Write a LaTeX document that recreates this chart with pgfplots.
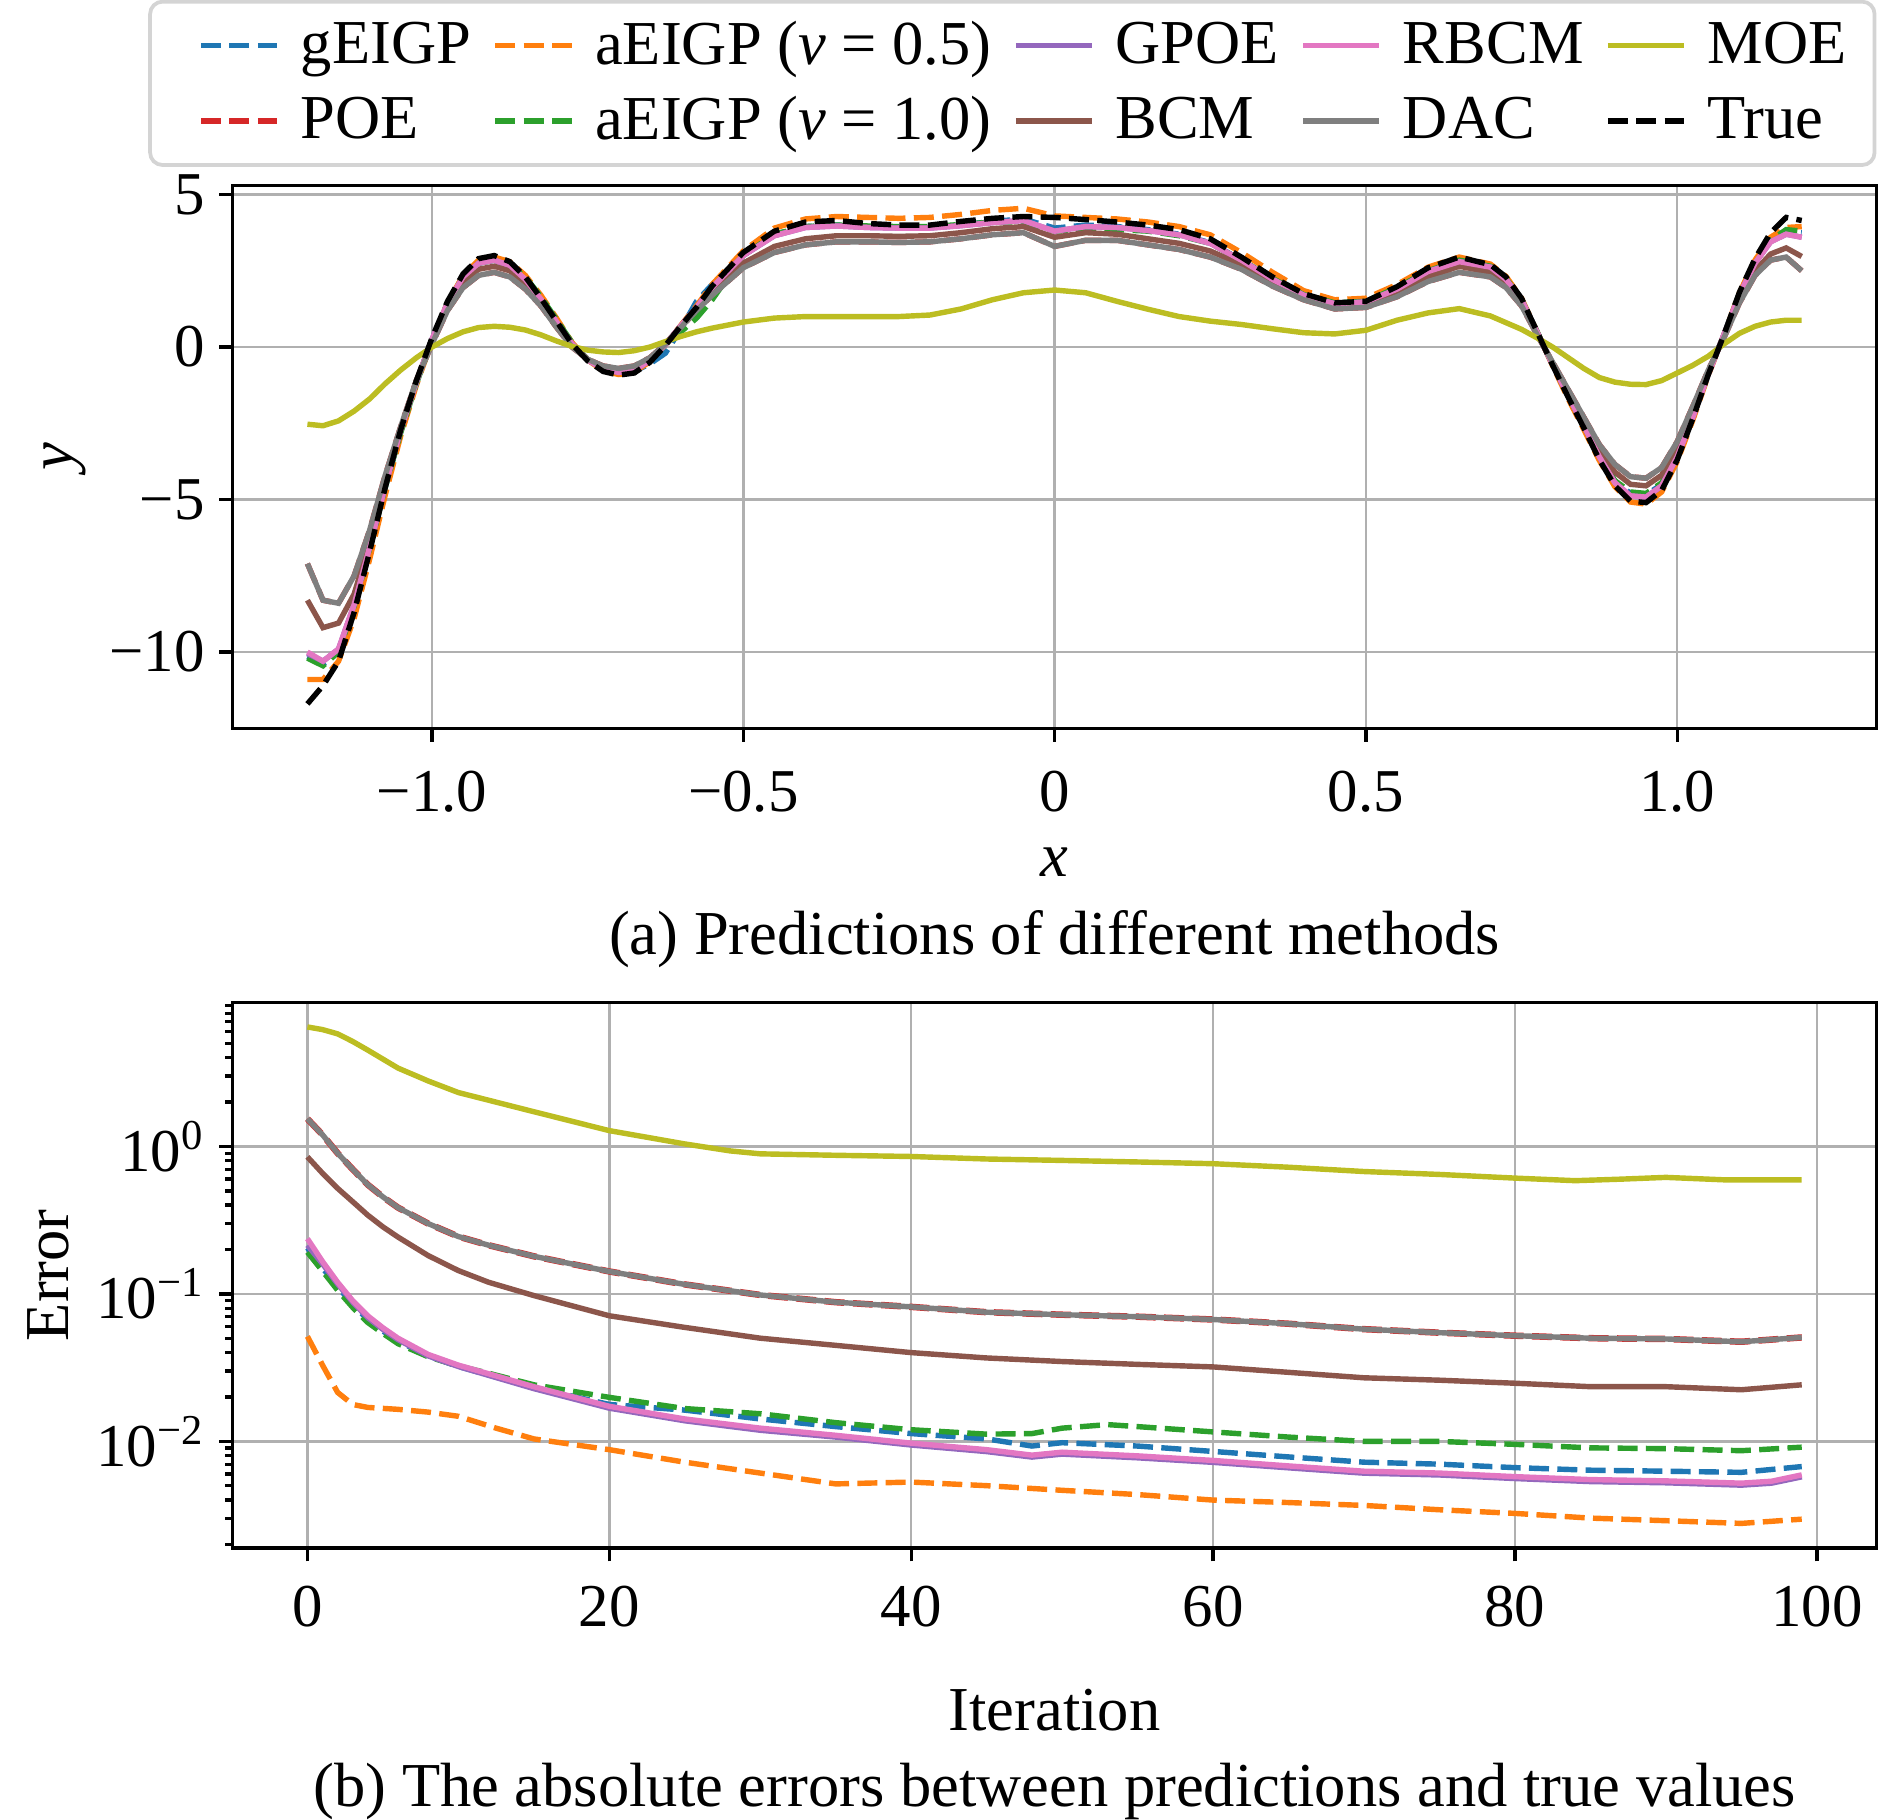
\documentclass[border=0pt]{standalone}
\usepackage{fontspec}
\setmainfont{Liberation Serif}
\usepackage{pgfplots}
\usepackage{pgfplotstable}
\pgfplotsset{compat=1.18}
\definecolor{cB}{HTML}{1F77B4}
\definecolor{cO}{HTML}{FF7F0E}
\definecolor{cG}{HTML}{2CA02C}
\definecolor{cR}{HTML}{D62728}
\definecolor{cP}{HTML}{9467BD}
\definecolor{cBr}{HTML}{8C564B}
\definecolor{cPk}{HTML}{E377C2}
\definecolor{cGr}{HTML}{7F7F7F}
\definecolor{cOl}{HTML}{BCBD22}
\newcommand{\fs}{\fontsize{14.6}{17.5}\selectfont}
\newcommand{\fl}{\fontsize{15}{18}\selectfont}

\pgfplotstableread{
x T gE a05 a10 GP BCM RB DAC MOE
-1.2 -11.7 -10.15 -10.9 -10.2 -10.05 -8.3 -10.0 -7.1 -2.53
-1.175 -11.1 -10.4 -10.9 -10.45 -10.3 -9.2 -10.3 -8.3 -2.58
-1.15 -10.3 -9.95 -10.3 -10.0 -9.9 -9.05 -9.9 -8.4 -2.42
-1.125 -8.7 -8.5 -8.9 -8.5 -8.45 -8.1 -8.45 -7.5 -2.1
-1.1 -6.7 -6.6 -6.95 -6.6 -6.55 -6.4 -6.55 -6.0 -1.7
-1.075 -4.6 -4.6 -4.85 -4.6 -4.55 -4.5 -4.55 -4.2 -1.2
-1.05 -2.7 -2.75 -2.9 -2.8 -2.7 -2.7 -2.7 -2.6 -0.75
-1.025 -1.1 -1.15 -1.25 -1.2 -1.15 -1.1 -1.15 -1.1 -0.35
-1.0 0.3 0.25 0.2 0.2 0.25 0.2 0.25 0.1 0.0
-0.975 1.5 1.45 1.45 1.45 1.4 1.35 1.45 1.2 0.28
-0.95 2.4 2.3 2.35 2.3 2.3 2.15 2.3 1.95 0.5
-0.925 2.9 2.75 2.85 2.75 2.75 2.55 2.75 2.35 0.64
-0.9 3.0 2.85 2.95 2.85 2.85 2.65 2.85 2.45 0.68
-0.875 2.8 2.7 2.8 2.7 2.65 2.5 2.68 2.3 0.65
-0.85 2.3 2.25 2.35 2.3 2.2 2.05 2.22 1.9 0.56
-0.825 1.6 1.6 1.7 1.65 1.55 1.45 1.57 1.35 0.4
-0.8 0.85 0.85 0.95 0.9 0.82 0.75 0.83 0.65 0.2
-0.775 0.1 0.12 0.15 0.15 0.1 0.05 0.1 0.0 0.02
-0.75 -0.45 -0.42 -0.42 -0.4 -0.42 -0.4 -0.42 -0.4 -0.1
-0.725 -0.8 -0.75 -0.78 -0.72 -0.72 -0.7 -0.72 -0.62 -0.16
-0.7 -0.92 -0.85 -0.9 -0.82 -0.83 -0.8 -0.83 -0.7 -0.18
-0.675 -0.85 -0.8 -0.82 -0.75 -0.76 -0.72 -0.76 -0.62 -0.12
-0.65 -0.5 -0.55 -0.48 -0.42 -0.44 -0.4 -0.44 -0.35 0.0
-0.625 0.05 -0.2 0.08 0.05 0.08 0.1 0.08 0.1 0.18
-0.6 0.7 0.6 0.72 0.5 0.7 0.7 0.7 0.65 0.35
-0.575 1.3 1.5 1.35 0.95 1.3 1.25 1.3 1.2 0.5
-0.55 2.0 2.05 2.05 1.55 1.95 1.8 1.95 1.7 0.62
-0.5 3.1 3.0 3.15 3.0 3.0 2.75 3.0 2.6 0.82
-0.45 3.8 3.7 3.9 3.7 3.65 3.3 3.65 3.1 0.95
-0.4 4.1 3.95 4.2 3.95 3.92 3.55 3.92 3.35 1.0
-0.35 4.15 4.0 4.28 4.0 3.97 3.65 3.97 3.45 1.0
-0.3 4.05 3.95 4.25 3.97 3.92 3.65 3.92 3.45 1.0
-0.25 4.0 3.93 4.22 3.95 3.9 3.63 3.9 3.43 1.0
-0.2 4.0 3.93 4.25 3.95 3.9 3.65 3.9 3.45 1.05
-0.15 4.12 4.0 4.35 4.02 3.98 3.75 3.98 3.55 1.25
-0.1 4.22 4.12 4.48 4.1 4.08 3.88 4.08 3.68 1.55
-0.05 4.28 4.2 4.55 4.1 4.15 3.95 4.15 3.75 1.78
0 4.25 3.9 4.3 3.8 3.8 3.6 3.8 3.3 1.87
0.05 4.18 4.0 4.25 3.85 3.95 3.75 3.95 3.5 1.78
0.1 4.1 3.95 4.2 3.85 3.92 3.7 3.92 3.5 1.5
0.15 4.0 3.85 4.1 3.8 3.82 3.55 3.82 3.35 1.24
0.2 3.85 3.7 3.95 3.65 3.68 3.4 3.68 3.2 1.0
0.25 3.55 3.42 3.68 3.4 3.4 3.15 3.4 2.95 0.85
0.3 2.95 2.85 3.1 2.85 2.85 2.7 2.85 2.55 0.74
0.35 2.3 2.25 2.45 2.25 2.22 2.15 2.22 2.0 0.6
0.4 1.75 1.72 1.85 1.72 1.7 1.65 1.7 1.55 0.47
0.45 1.45 1.43 1.55 1.45 1.42 1.35 1.42 1.25 0.43
0.5 1.5 1.5 1.6 1.5 1.48 1.4 1.48 1.3 0.55
0.55 1.98 1.95 2.05 1.95 1.9 1.8 1.9 1.65 0.88
0.6 2.6 2.5 2.62 2.5 2.48 2.3 2.48 2.15 1.12
0.65 2.95 2.85 2.95 2.85 2.8 2.65 2.8 2.45 1.26
0.7 2.7 2.65 2.72 2.65 2.62 2.45 2.62 2.3 1.02
0.725 2.3 2.25 2.32 2.25 2.22 2.1 2.22 1.95 0.8
0.75 1.6 1.55 1.6 1.55 1.55 1.45 1.55 1.35 0.58
0.775 0.5 0.5 0.5 0.5 0.48 0.45 0.48 0.4 0.3
0.8 -0.6 -0.58 -0.62 -0.58 -0.58 -0.55 -0.58 -0.5 0.0
0.825 -1.65 -1.6 -1.7 -1.6 -1.6 -1.5 -1.6 -1.4 -0.35
0.85 -2.65 -2.58 -2.7 -2.58 -2.58 -2.45 -2.58 -2.3 -0.7
0.875 -3.7 -3.58 -3.72 -3.58 -3.6 -3.4 -3.6 -3.2 -1.0
0.9 -4.55 -4.4 -4.58 -4.38 -4.45 -4.1 -4.45 -3.85 -1.15
0.925 -5.05 -4.8 -5.08 -4.75 -4.88 -4.5 -4.88 -4.25 -1.22
0.95 -5.1 -4.85 -5.15 -4.8 -4.92 -4.55 -4.92 -4.3 -1.23
0.975 -4.7 -4.5 -4.75 -4.45 -4.55 -4.2 -4.55 -3.95 -1.1
1.0 -3.7 -3.55 -3.75 -3.5 -3.6 -3.3 -3.6 -3.1 -0.85
1.025 -2.35 -2.25 -2.4 -2.25 -2.3 -2.1 -2.3 -1.95 -0.6
1.05 -0.9 -0.85 -0.92 -0.85 -0.88 -0.8 -0.88 -0.75 -0.3
1.075 0.4 0.4 0.4 0.4 0.4 0.35 0.4 0.3 0.1
1.1 1.8 1.75 1.78 1.75 1.72 1.55 1.72 1.45 0.45
1.125 2.9 2.8 2.85 2.8 2.75 2.5 2.75 2.35 0.68
1.15 3.75 3.5 3.6 3.5 3.45 3.05 3.45 2.85 0.82
1.175 4.25 3.8 3.92 3.85 3.7 3.25 3.7 2.95 0.88
1.2 4.15 3.75 3.95 3.8 3.6 2.97 3.6 2.5 0.88
}\topdata

\pgfplotsset{
  mystyle/.style={
    scale only axis, width=394.5pt,
    axis line style={line width=0.8pt},
    tick align=outside, xtick pos=bottom, ytick pos=left,
    major tick length=3.2pt, minor tick length=1.8pt,
    every tick/.style={black, line width=0.8pt},
    grid=major, major grid style={color=black!31, line width=0.6pt},
    tick label style={font=\fs},
    label style={font=\fl},
  },
  ln/.style={line width=1.3pt},
  ds/.style={line width=1.3pt, dash pattern=on 4.8pt off 2pt},
}

\begin{document}
\begin{tikzpicture}
\useasboundingbox (0,0) rectangle (453.6pt,436.8pt);
\begin{axis}[mystyle, at={(55.85pt,262.0pt)}, anchor=south west, height=130.3pt,
  xmin=-1.32, xmax=1.32, ymin=-12.5, ymax=5.3,
  xtick={-1,-0.5,0,0.5,1}, xticklabels={−1.0,−0.5,0,0.5,1.0},
  ytick={-10,-5,0,5}, yticklabels={−10,−5,0,5},
  xticklabel style={yshift=-3.5pt},
  xlabel={\textit{x}}, ylabel={\textit{y}},
  xlabel style={at={(axis description cs:0.5,-0.247)}, anchor=center},
  ylabel style={at={(axis description cs:-0.102,0.5)}, anchor=center},
  legend columns=5, legend cell align=left,
  legend style={at={(0.4743,1.188)}, anchor=center, draw=black!17, line width=0.9pt,
    rounded corners=3pt, inner xsep=5.2pt, inner ysep=3.1pt,
    nodes={inner sep=1.5pt, font=\fl},
    /tikz/row sep=3.2pt,
    /tikz/every even column/.append style={column sep=-2.7pt},
    /tikz/every odd column/.append style={column sep=3.5pt}},
  legend image code/.code={\path (-6.4pt,0pt); \draw[#1] (0pt,0pt) -- (18.3pt,0pt);},
]
\addlegendimage{cB, ds}\addlegendentry{gEIGP}
\addlegendimage{cO, ds}\addlegendentry{aEIGP (\textit{v} = 0.5)}
\addlegendimage{cP, ln}\addlegendentry{GPOE}
\addlegendimage{cPk, ln}\addlegendentry{RBCM}
\addlegendimage{cOl, ln}\addlegendentry{MOE}
\addlegendimage{cR, ds}\addlegendentry{POE}
\addlegendimage{cG, ds}\addlegendentry{aEIGP (\textit{v} = 1.0)}
\addlegendimage{cBr, ln}\addlegendentry{BCM}
\addlegendimage{cGr, ln}\addlegendentry{DAC}
\addlegendimage{black, ds}\addlegendentry{True}

\addplot[cB, ds, forget plot] table[x=x, y=gE] {\topdata};
\addplot[cR, ds, forget plot] table[x=x, y=DAC] {\topdata};
\addplot[cO, ds, forget plot] table[x=x, y=a05] {\topdata};
\addplot[cG, ds, forget plot] table[x=x, y=a10] {\topdata};
\addplot[cP, ln, forget plot] table[x=x, y=GP] {\topdata};
\addplot[cBr, ln, forget plot] table[x=x, y=BCM] {\topdata};
\addplot[cPk, ln, forget plot] table[x=x, y=RB] {\topdata};
\addplot[cGr, ln, forget plot] table[x=x, y=DAC] {\topdata};
\addplot[cOl, ln, forget plot] table[x=x, y=MOE] {\topdata};
\addplot[black, ds, forget plot] table[x=x, y=T] {\topdata};
\end{axis}

\begin{axis}[mystyle, ymode=log, at={(55.85pt,65.25pt)}, anchor=south west, height=131pt,
  xmin=-4.95, xmax=103.95, ymin=0.00189, ymax=9.5,
  xtick={0,20,40,60,80,100}, xticklabels={0,20,40,60,80,100},
  xticklabel style={yshift=-2.3pt},
  ytick={0.01,0.1,1}, yticklabels={10\textsuperscript{−2},10\textsuperscript{−1},10\textsuperscript{0}},
  minor ytick={0.002,0.003,0.004,0.005,0.006,0.007,0.008,0.009,0.02,0.03,0.04,0.05,0.06,0.07,0.08,0.09,0.2,0.3,0.4,0.5,0.6,0.7,0.8,0.9,2,3,4,5,6,7,8,9},
  xlabel={Iteration}, ylabel={Error},
  xlabel style={at={(axis description cs:0.5,-0.296)}, anchor=center},
  ylabel style={at={(axis description cs:-0.1122,0.5)}, anchor=center},
]
\addplot[cB, ds] coordinates {(0,0.205) (1,0.15) (2,0.112) (3,0.085) (4,0.067) (5,0.056) (6,0.048) (8,0.038) (10,0.0322) (15,0.0232) (20,0.0178) (25,0.0163) (30,0.0142) (35,0.0126) (40,0.0113) (45,0.0104) (48,0.0093) (50,0.0098) (55,0.0093) (60,0.00855) (65,0.00785) (70,0.00723) (75,0.00701) (80,0.00664) (85,0.00638) (90,0.00628) (95,0.00617) (99,0.00675)};
\addplot[cR, line width=1.55pt, dash pattern=on 4.8pt off 2pt] coordinates {(0,1.54) (1,1.2) (2,0.9) (3,0.7) (4,0.55) (5,0.455) (6,0.385) (8,0.3) (10,0.245) (12,0.214) (15,0.18) (20,0.142) (25,0.116) (30,0.0984) (35,0.0879) (40,0.0817) (45,0.0752) (50,0.0723) (55,0.0701) (60,0.0671) (65,0.0628) (70,0.0577) (75,0.0546) (80,0.0521) (85,0.0501) (90,0.0495) (95,0.0474) (99,0.0507)};
\addplot[cO, ds] coordinates {(0,0.0515) (1,0.0329) (2,0.0215) (3,0.0178) (4,0.017) (6,0.0165) (8,0.0158) (10,0.0148) (12.5,0.0123) (15,0.0104) (20,0.00879) (25,0.00723) (30,0.0061) (35,0.00515) (40,0.0053) (45,0.00501) (50,0.00466) (55,0.00436) (60,0.004) (65,0.00385) (70,0.00368) (75,0.00344) (80,0.00325) (85,0.00302) (90,0.0029) (95,0.00278) (99,0.00297)};
\addplot[cG, ds] coordinates {(0,0.192) (1,0.143) (2,0.106) (3,0.081) (4,0.064) (5,0.054) (6,0.046) (8,0.0375) (10,0.0325) (12,0.029) (15,0.0242) (20,0.0199) (25,0.0167) (30,0.0154) (35,0.0134) (40,0.012) (45,0.0112) (48,0.0113) (50,0.0123) (53,0.013) (55,0.0126) (60,0.0116) (65,0.0107) (70,0.01) (75,0.01) (80,0.00955) (85,0.00904) (90,0.00893) (95,0.00865) (99,0.00914)};
\addplot[cP, ln] coordinates {(0,0.214) (1,0.16) (2,0.117) (3,0.088) (4,0.069) (5,0.0575) (6,0.049) (8,0.038) (10,0.0322) (15,0.0228) (20,0.0168) (25,0.0138) (30,0.0119) (35,0.0107) (40,0.00945) (45,0.00853) (48,0.00783) (50,0.0082) (55,0.00774) (60,0.00721) (65,0.00662) (70,0.00609) (75,0.00592) (80,0.0056) (85,0.00534) (90,0.00524) (95,0.00505) (97,0.00521) (99,0.00575)};
\addplot[cBr, ln] coordinates {(0,0.85) (1,0.658) (2,0.52) (3,0.422) (4,0.342) (5,0.285) (6,0.243) (8,0.182) (10,0.144) (12,0.12) (15,0.0975) (20,0.0711) (25,0.0593) (30,0.0501) (35,0.0448) (40,0.04) (45,0.0368) (50,0.0348) (55,0.0333) (60,0.032) (65,0.0294) (70,0.027) (75,0.026) (80,0.0248) (85,0.0235) (90,0.0235) (95,0.0224) (99,0.0242)};
\addplot[cPk, ln] coordinates {(0,0.237) (1,0.166) (2,0.12) (3,0.09) (4,0.071) (5,0.059) (6,0.0501) (8,0.0389) (10,0.0329) (15,0.0235) (20,0.0173) (25,0.0142) (30,0.0123) (35,0.011) (40,0.00973) (45,0.00879) (48,0.00807) (50,0.00845) (55,0.00798) (60,0.00743) (65,0.00682) (70,0.00628) (75,0.0061) (80,0.00577) (85,0.00551) (90,0.0054) (95,0.00521) (97,0.00537) (99,0.00593)};
\addplot[cGr, ln] coordinates {(0,1.54) (1,1.2) (2,0.9) (3,0.7) (4,0.55) (5,0.455) (6,0.385) (8,0.3) (10,0.245) (12,0.214) (15,0.18) (20,0.142) (25,0.116) (30,0.0984) (35,0.0879) (40,0.0817) (45,0.0752) (50,0.0723) (55,0.0701) (60,0.0671) (65,0.0628) (70,0.0577) (75,0.0546) (80,0.0521) (85,0.0501) (90,0.0495) (95,0.0474) (99,0.0507)};
\addplot[cOl, ln] coordinates {(0,6.46) (1,6.2) (2,5.8) (3,5.15) (4,4.5) (6,3.4) (8,2.78) (10,2.32) (15,1.72) (20,1.28) (25,1.04) (28,0.933) (30,0.891) (35,0.871) (40,0.855) (45,0.822) (50,0.804) (55,0.785) (60,0.764) (65,0.723) (70,0.676) (75,0.646) (80,0.61) (84,0.586) (87,0.6) (90,0.617) (94,0.593) (99,0.593)};
\end{axis}

\node[font=\fl] at (253.1pt,211.3pt) {(a) Predictions of different methods};
\node[font=\fl] at (253.1pt,6.9pt) {(b) The absolute errors between predictions and true values};
\end{tikzpicture}
\end{document}
